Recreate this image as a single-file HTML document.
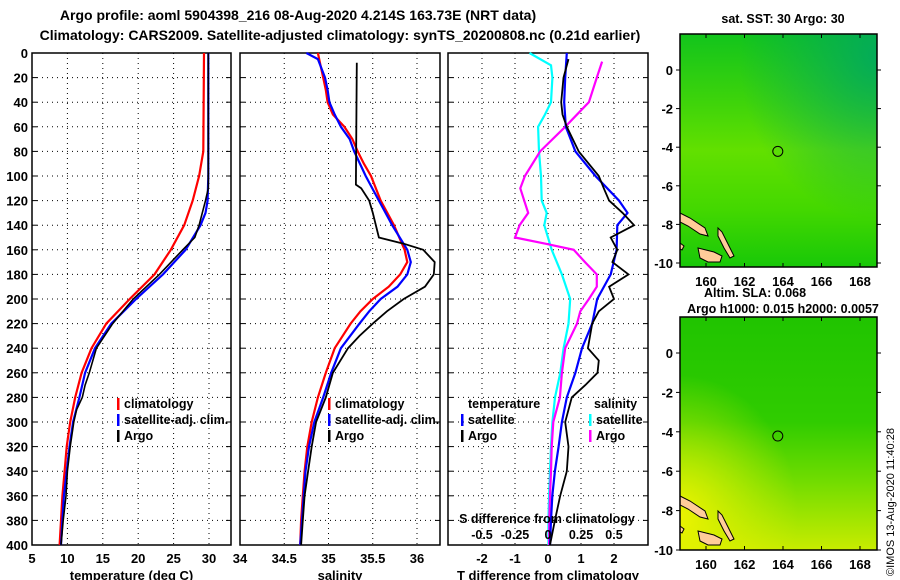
<!DOCTYPE html>
<html><head><meta charset="utf-8">
<style>
html,body{margin:0;padding:0;background:#fff;}
svg{display:block;font-family:"Liberation Sans",sans-serif;font-weight:bold;}
</style></head>
<body>
<svg id="chart" width="900" height="580" viewBox="0 0 900 580" xmlns="http://www.w3.org/2000/svg">
<defs>
<linearGradient id="m1v" x1="0" y1="0" x2="0" y2="1">
<stop offset="0" stop-color="#12c41c"/><stop offset="0.3" stop-color="#3fd40a"/><stop offset="0.5" stop-color="#62e000"/><stop offset="0.75" stop-color="#44d800"/><stop offset="1" stop-color="#18c808"/>
</linearGradient>
<radialGradient id="m1tr" cx="1" cy="0.1" r="0.7"><stop offset="0" stop-color="#00a860" stop-opacity="0.9"/><stop offset="1" stop-color="#00a860" stop-opacity="0"/></radialGradient>
<linearGradient id="m2v" x1="0" y1="0" x2="0" y2="1">
<stop offset="0" stop-color="#20c400"/><stop offset="0.45" stop-color="#30cc00"/><stop offset="0.7" stop-color="#70dc00"/><stop offset="1" stop-color="#c8ec00"/>
</linearGradient>
<radialGradient id="m2bl" cx="0" cy="0.85" r="0.6"><stop offset="0" stop-color="#f0f400" stop-opacity="0.95"/><stop offset="1" stop-color="#e0f000" stop-opacity="0"/></radialGradient>
</defs>
<g id="titles" font-size="14" text-anchor="middle">
<text x="298" y="20">Argo profile: aoml 5904398_216 08-Aug-2020 4.214S 163.73E (NRT data)</text>
<text x="340" y="40">Climatology: CARS2009. Satellite-adjusted climatology: synTS_20200808.nc (0.21d earlier)</text>
</g>
<g id="panels"></g>
<g id="maps"></g>
<text font-size="11" font-weight="normal" transform="translate(894,576) rotate(-90)">©IMOS 13-Aug-2020 11:40:28</text>
</svg>
<script>
// ---- data (depth in m) ----
var depthTicks=[0,20,40,60,80,100,120,140,160,180,200,220,240,260,280,300,320,340,360,380,400];
var tTicks=[5,10,15,20,25,30];
var sTicks=[34,34.5,35,35.5,36];
var dtTicks=[-2,-1,0,1,2];
var dsTicks=[-0.5,-0.25,0,0.25,0.5];
var dsTickLabels=["-0.5","-0.25","0","0.25","0.5"];

var tClimDepth=[0,80,100,120,140,160,180,200,220,240,260,280,300,320,340,360,380,400];
var tClimVal=[29.3,29.2,28.6,27.7,26.5,24.6,22.3,18.8,15.5,13.4,12.0,11.1,10.4,9.9,9.6,9.3,9.1,8.9];
var tSatDepth=[0,100,120,130,140,160,180,200,220,240,260,280,300,320,340,360,380,400];
var tSatVal=[29.9,29.9,29.8,29.5,28.8,26.7,23.5,19.7,16.2,13.9,12.5,11.7,10.8,10.3,9.9,9.5,9.3,9.1];
var tArgoDepth=[0,110,120,140,150,160,180,200,220,240,260,270,280,290,300,320,340,360,380,400];
var tArgoVal=[29.9,29.9,29.5,28.6,28.0,26.3,23.0,19.3,16.4,14.1,13.1,12.5,12.1,11.3,10.9,10.4,10.0,9.8,9.4,9.1];

var sClimDepth=[0,10,20,30,40,50,60,70,80,90,100,120,140,160,170,180,190,200,210,220,240,260,280,300,320,340,360,380,400];
var sClimVal=[34.88,34.91,34.94,34.97,34.99,35.05,35.18,35.27,35.33,35.40,35.48,35.59,35.74,35.86,35.89,35.81,35.68,35.50,35.36,35.25,35.07,34.97,34.88,34.81,34.76,34.73,34.71,34.69,34.68];
var sSatDepth=[0,5,20,30,40,50,60,70,80,100,120,140,160,170,180,190,200,210,220,240,260,280,300,320,340,360,380,400];
var sSatVal=[34.75,34.88,34.96,34.99,35.01,35.07,35.14,35.24,35.29,35.42,35.57,35.72,35.89,35.93,35.89,35.78,35.59,35.46,35.35,35.14,35.03,34.94,34.84,34.78,34.74,34.72,34.70,34.68];
var sArgoDepth=[8,107,110,120,130,150,155,160,170,180,190,200,210,220,230,240,260,280,300,320,340,360,380,400];
var sArgoVal=[35.32,35.31,35.37,35.46,35.50,35.57,35.85,36.07,36.20,36.19,36.09,35.85,35.66,35.50,35.35,35.22,35.05,34.97,34.86,34.81,34.77,34.73,34.71,34.69];

var dtSatDepth=[0,20,40,60,80,100,120,130,140,160,180,200,220,240,260,280,300,320,340,360,380,400];
var dtSatVal=[0.57,0.52,0.49,0.54,0.83,1.44,2.15,2.41,2.10,2.08,1.90,1.49,1.34,1.03,0.83,0.57,0.42,0.32,0.21,0.13,0.09,0.06];
var dtArgoDepth=[5,20,40,50,60,80,100,110,120,130,140,150,160,170,180,190,200,210,220,240,250,260,270,280,290,300,320,340,360,380,400];
var dtArgoVal=[0.62,0.47,0.40,0.44,0.57,0.93,1.54,1.69,1.85,2.26,2.61,1.90,2.10,1.95,2.44,1.85,2.00,1.54,1.34,1.21,1.54,1.50,1.13,0.72,0.62,0.52,0.62,0.57,0.37,0.21,0.06];
var dsSatDepth=[0,10,20,40,50,60,80,100,120,130,140,160,180,200,220,240,260,280,300,320,340,360,380,400];
var dsSatVal=[-0.14,0.023,0.033,0.023,-0.023,-0.075,-0.068,-0.053,-0.048,-0.01,-0.028,0.028,0.105,0.168,0.155,0.118,0.093,0.053,0.033,0.023,0.015,0.008,0.003,0.003];
var dsArgoDepth=[7,20,40,60,80,100,110,120,130,140,150,155,160,170,180,190,200,210,220,240,260,280,300,320,340,360,380,400];
var dsArgoVal=[0.41,0.37,0.31,0.13,-0.06,-0.175,-0.21,-0.18,-0.15,-0.215,-0.25,-0.02,0.195,0.28,0.37,0.37,0.31,0.245,0.22,0.13,0.105,0.09,0.04,0.028,0.023,0.015,0.01,0.008];

var latTicks=[0,-2,-4,-6,-8,-10];
var lonTicks=[160,162,164,166,168];
var floatLon=163.73, floatLat=-4.214;

// ---- helpers ----
var NS="http://www.w3.org/2000/svg";
function mk(tag,parent,attrs){var e=document.createElementNS(NS,tag);for(var k in attrs)e.setAttribute(k,attrs[k]);parent.appendChild(e);return e;}
var Y0=53,Y1=545;
function yD(d){return Y0+(d/400)*(Y1-Y0);}
var panelsG=document.getElementById('panels');

function panel(name,x0,x1,dmin,dmax,xTickVals,xTickLabels,title,showDepth){
  var g=mk('g',panelsG,{});
  
  
  function xs(v){return x0+(v-dmin)/(dmax-dmin)*(x1-x0);}
  // grid
  depthTicks.forEach(function(d){
    if(d>0&&d<400){var l=mk('line',g,{x1:x0,x2:x1,y1:yD(d),y2:yD(d),stroke:'#000','stroke-width':1,'stroke-dasharray':'1,4'});
    }
    mk('line',g,{x1:x0,x2:x0+5,y1:yD(d),y2:yD(d),stroke:'#000'});
    mk('line',g,{x1:x1-5,x2:x1,y1:yD(d),y2:yD(d),stroke:'#000'});
    if(showDepth){var t=mk('text',g,{x:28,y:yD(d)+5,'font-size':13,'text-anchor':'end'});t.textContent=d;
      }
  });
  xTickVals.forEach(function(v,i){
    var x=xs(v);
    if(x>x0+1&&x<x1-1){var l=mk('line',g,{x1:x,x2:x,y1:Y0,y2:Y1,stroke:'#000','stroke-width':1,'stroke-dasharray':'1,4'});
    }
    var t=mk('text',g,{x:x,y:563,'font-size':13,'text-anchor':'middle'});t.textContent=xTickLabels[i];
    
  });
  var fr=mk('rect',g,{x:x0,y:Y0,width:x1-x0,height:Y1-Y0,fill:'none',stroke:'#000','stroke-width':1.5});
  
  var tt=mk('text',g,{x:(x0+x1)/2,y:580,'font-size':13,'text-anchor':'middle'});tt.textContent=title;
  
  return {g:g,xs:xs};
}
function series(p,name,depths,vals,color,w){
  var pts=depths.map(function(d,i){return p.xs(vals[i]).toFixed(1)+','+yD(d).toFixed(1);}).join(' ');
  var l=mk('polyline',p.g,{points:pts,fill:'none',stroke:color,'stroke-width':w||2.2,'stroke-linejoin':'miter'});
  
  
}
function legend(g,x,y,color,label,name){
  var m=mk('rect',g,{x:x,y:y-10,width:2.5,height:12,fill:color});
  var t=mk('text',g,{x:x+7,y:y,'font-size':12.5});t.textContent=label;
  
}

// Panel 1: temperature
var p1=panel('temperature-panel',32,231,5,5+(231-32)/7.08,tTicks,tTicks.map(String),'temperature (deg C)',true);
series(p1,'temperature-climatology-line',tClimDepth,tClimVal,'#ff0000');
series(p1,'temperature-satellite-line',tSatDepth,tSatVal,'#0000ff');
series(p1,'temperature-argo-line',tArgoDepth,tArgoVal,'#000000',1.6);
legend(p1.g,117,408,'#ff0000','climatology','legend-climatology');
legend(p1.g,117,424,'#0000ff','satellite-adj. clim.','legend-satellite');
legend(p1.g,117,440,'#000000','Argo','legend-argo');

// Panel 2: salinity
var p2=panel('salinity-panel',240,440,34,34+200/88.5,sTicks,['34','34.5','35','35.5','36'],'salinity',false);
series(p2,'salinity-climatology-line',sClimDepth,sClimVal,'#ff0000');
series(p2,'salinity-satellite-line',sSatDepth,sSatVal,'#0000ff');
series(p2,'salinity-argo-line',sArgoDepth,sArgoVal,'#000000',1.8);
legend(p2.g,328,408,'#ff0000','climatology','legend-climatology');
legend(p2.g,328,424,'#0000ff','satellite-adj. clim.','legend-satellite');
legend(p2.g,328,440,'#000000','Argo','legend-argo');

// Panel 3: differences
var p3=panel('difference-panel',448,648,-3.03,3.03,dtTicks,dtTicks.map(String),'T difference from climatology',false);
var p3s={g:p3.g,xs:function(v){return p3.xs(v*4);}};
series(p3s,'salinity-diff-satellite-line',dsSatDepth,dsSatVal,'#00ffff');
series(p3s,'salinity-diff-argo-line',dsArgoDepth,dsArgoVal,'#ff00ff');
series(p3,'temperature-diff-satellite-line',dtSatDepth,dtSatVal,'#0000ff');
series(p3,'temperature-diff-argo-line',dtArgoDepth,dtArgoVal,'#000000',1.8);
(function(){
  var g=p3.g;
  var t=mk('text',g,{x:468,y:408,'font-size':12.5});t.textContent='temperature';
  
  var t2=mk('text',g,{x:594,y:408,'font-size':12.5});t2.textContent='salinity';
  
  legend(g,461,424,'#0000ff','satellite','legend-t-satellite');
  legend(g,461,440,'#000000','Argo','legend-t-argo');
  legend(g,589,424,'#00ffff','satellite','legend-s-satellite');
  legend(g,589,440,'#ff00ff','Argo','legend-s-argo');
  var s=mk('text',g,{x:547,y:523,'font-size':12.5,'text-anchor':'middle'});s.textContent='S difference from climatology';
  
  dsTicks.forEach(function(v,i){var l=mk('text',g,{x:p3s.xs(v),y:539,'font-size':12.5,'text-anchor':'middle'});l.textContent=dsTickLabels[i];
    });
})();

// ---- maps ----
var mapsG=document.getElementById('maps');
function map(name,top,latY0,latStep,fillA,fillB,circleY){
  var g=mk('g',mapsG,{});
  
  var x0=680,x1=877,y0=top,y1=top+233;
  mk('rect',g,{x:x0,y:y0,width:x1-x0,height:y1-y0,fill:'url(#'+fillA+')'});
  mk('rect',g,{x:x0,y:y0,width:x1-x0,height:y1-y0,fill:'url(#'+fillB+')'});
  var off=top-34;
  var land=[
    "680,213 690,218 705,228 708,236 700,234 688,226 680,222",
    "718,228 722,232 728,244 734,256 730,258 724,248 718,236",
    "698,248 706,250 714,252 722,256 720,262 708,262 700,258",
    "680,243 684,246 682,250 680,249"
  ];
  land.forEach(function(pts){
    var s=pts.split(' ').map(function(p){var a=p.split(',');return a[0]+','+(+a[1]+off);}).join(' ');
    var pl=mk('polygon',g,{points:s,fill:'#ffcc99',stroke:'#000','stroke-width':1});
    
  });
  function lx(lon){return 706+(lon-160)*19.25;}
  lonTicks.forEach(function(lon){
    mk('line',g,{x1:lx(lon),x2:lx(lon),y1:y0,y2:y0+4,stroke:'#000'});
    mk('line',g,{x1:lx(lon),x2:lx(lon),y1:y1-4,y2:y1,stroke:'#000'});
    var t=mk('text',g,{x:lx(lon),y:y1+19,'font-size':13,'text-anchor':'middle'});t.textContent=lon;
    
  });
  latTicks.forEach(function(lat){
    var y=latY0-lat*latStep;
    mk('line',g,{x1:x0-4,x2:x0,y1:y,y2:y,stroke:'#000'});
    mk('line',g,{x1:x1,x2:x1+4,y1:y,y2:y,stroke:'#000'});
    var t=mk('text',g,{x:673,y:y+5,'font-size':13,'text-anchor':'end'});t.textContent=lat;
    
  });
  var c=mk('circle',g,{cx:lx(floatLon),cy:circleY,r:5,fill:'none',stroke:'#000','stroke-width':1});
  
  var fr=mk('rect',g,{x:x0,y:y0,width:x1-x0,height:y1-y0,fill:'none',stroke:'#000','stroke-width':1.5});
  
  return g;
}
var g1=map('sst-map',34,70,19.3,'m1v','m1tr',70-floatLat*19.3);
var g2=map('sla-map',317,353,19.7,'m2v','m2bl',353-floatLat*19.7);
function label(g,x,y,txt,name){var t=mk('text',g,{x:x,y:y,'font-size':12.5,'text-anchor':'middle'});t.textContent=txt;
  }
label(g1,783,23,'sat. SST: 30 Argo: 30','sst-map-title');
label(g1,755,297,'Altim. SLA: 0.068','sla-label');
label(g2,783,313,'Argo h1000: 0.015 h2000: 0.0057','sla-map-title');
</script>
</body></html>
